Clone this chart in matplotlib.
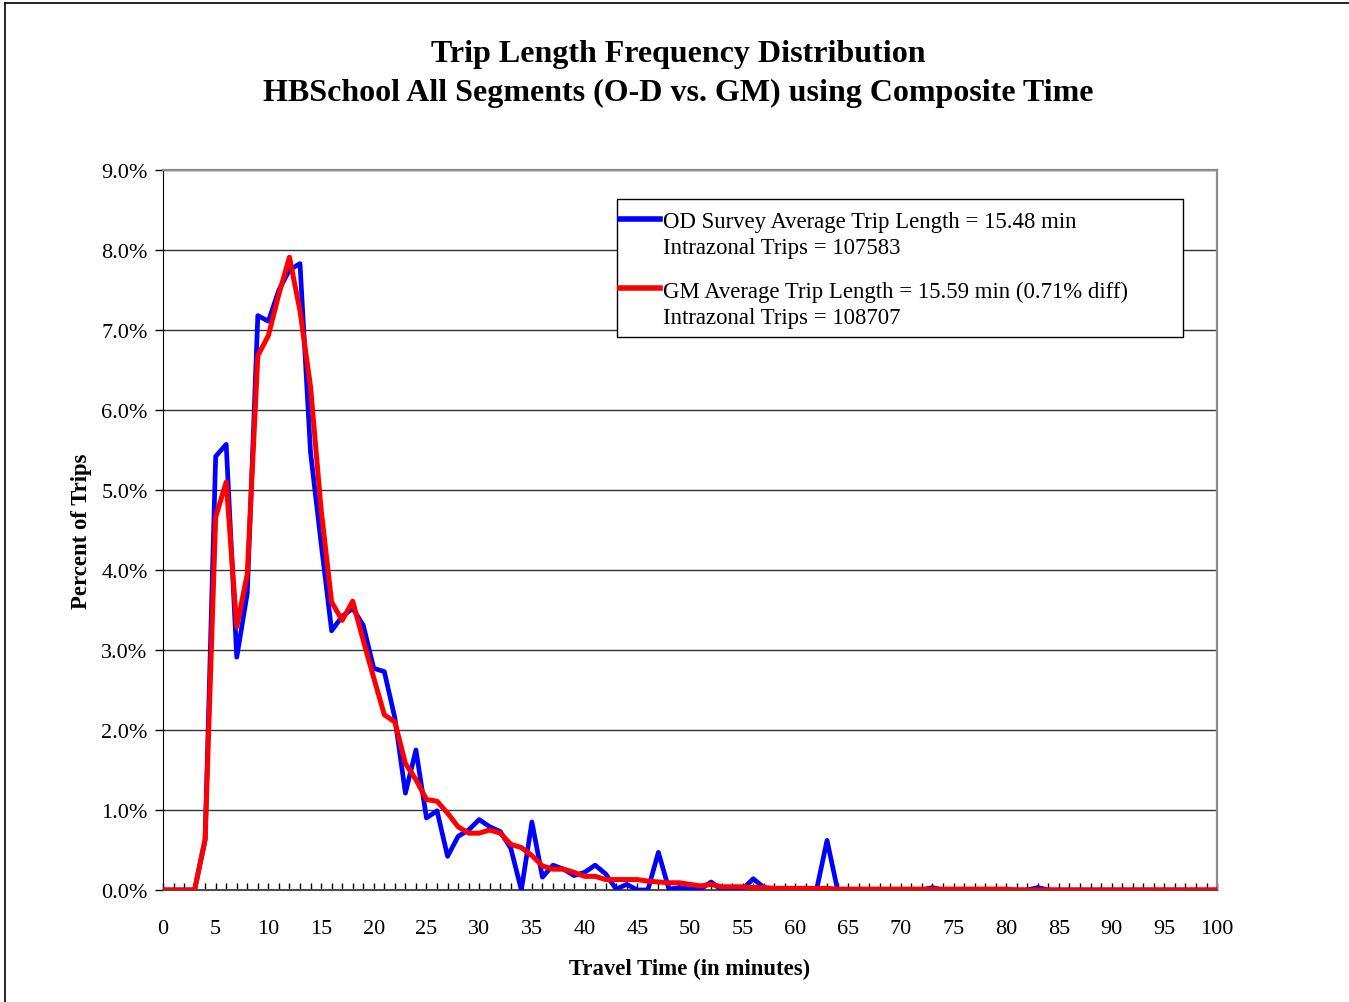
import numpy as np
import matplotlib.pyplot as plt
from matplotlib.lines import Line2D
from matplotlib.patches import Rectangle
from matplotlib.ticker import MultipleLocator, FuncFormatter

plt.rcParams['font.family'] = ['Liberation Serif', 'DejaVu Serif']

# travel time bins (minutes)
minutes = np.arange(0, 101)

# OD survey trip share (%), one value per minute
od_pct = [0, 0, 0, 0, 0.63, 5.42, 5.57, 2.91, 3.71, 7.18,
          7.11, 7.50, 7.75, 7.83, 5.47, 4.34, 3.24, 3.42, 3.52, 3.31,
          2.77, 2.73, 2.15, 1.21, 1.75, 0.90, 0.99, 0.42, 0.67, 0.75,
          0.88, 0.79, 0.73, 0.52, 0.00, 0.85, 0.16, 0.31, 0.26, 0.18,
          0.22, 0.31, 0.20, 0.01, 0.07, 0.00, 0.00, 0.47, 0.01, 0.03,
          0.01, 0.01, 0.10, 0.00, 0.00, 0.01, 0.14, 0.03, 0, 0,
          0, 0, 0, 0.62, 0, 0, 0, 0, 0, 0,
          0, 0, 0, 0.03, 0, 0, 0, 0, 0, 0,
          0, 0, 0, 0.03, 0, 0, 0, 0, 0, 0,
          0, 0, 0, 0, 0, 0, 0, 0, 0, 0,
          0]

# gravity model trip share (%)
gm_pct = [0, 0, 0, 0, 0.63, 4.66, 5.10, 3.29, 3.95, 6.68,
          6.93, 7.45, 7.91, 7.24, 6.29, 4.76, 3.60, 3.37, 3.61, 3.12,
          2.65, 2.19, 2.10, 1.58, 1.38, 1.13, 1.11, 0.96, 0.79, 0.71,
          0.71, 0.75, 0.71, 0.57, 0.53, 0.43, 0.30, 0.26, 0.26, 0.22,
          0.17, 0.17, 0.13, 0.13, 0.13, 0.13, 0.11, 0.10, 0.09, 0.09,
          0.07, 0.05, 0.07, 0.04, 0.04, 0.04, 0.03, 0.03, 0.02, 0.02,
          0.02, 0.02, 0.02, 0.02, 0.01, 0.01, 0.01, 0.01, 0.01, 0.01,
          0.01, 0.01, 0.01, 0.01, 0.01, 0.01, 0.01, 0.01, 0.01, 0.01,
          0.01, 0, 0, 0, 0, 0, 0, 0, 0, 0,
          0, 0, 0, 0, 0, 0, 0, 0, 0, 0,
          0]

od_lines = ['OD Survey Average Trip Length = 15.48 min', 'Intrazonal Trips = 107583']
gm_lines = ['GM Average Trip Length = 15.59 min (0.71% diff)', 'Intrazonal Trips = 108707']

BLUE = '#0000ff'
RED = '#ff0000'

fig = plt.figure(figsize=(13.49, 10.03), dpi=100)
ax = fig.add_axes([0.1208, 0.1117, 0.7814, 0.7178])

ax.plot(minutes, od_pct, color=BLUE, lw=3.4, zorder=3)
ax.plot(minutes, gm_pct, color=RED, lw=3.6, zorder=4)

ax.set_xlim(0, 100)
ax.set_ylim(0, 9)
ax.xaxis.set_major_locator(MultipleLocator(5))
ax.xaxis.set_minor_locator(MultipleLocator(1))
ax.yaxis.set_major_locator(MultipleLocator(1))
ax.yaxis.set_major_formatter(FuncFormatter(lambda v, p: '%.1f%%' % v))
ax.tick_params(axis='x', which='both', direction='in', length=5, width=1,
               color='black', labelsize=16, pad=21)
ax.tick_params(axis='y', which='major', direction='out', length=6, width=1,
               labelsize=16, pad=5)
ax.grid(axis='y', color='0.2', lw=1)
ax.set_axisbelow(True)

for side in ['top', 'right']:
    ax.spines[side].set_color('0.55')
    ax.spines[side].set_linewidth(1.6)
ax.spines['left'].set_color('black')
ax.spines['bottom'].set_color('0.3')
ax.spines['bottom'].set_linewidth(1.5)

ax.set_xlabel('Travel Time (in minutes)', fontsize=16.4, fontweight='bold', labelpad=14)
ax.set_ylabel('Percent of Trips', fontsize=16.4, fontweight='bold', labelpad=7)

# legend box drawn by hand (handle sits on the first text line)
box = Rectangle((0.4307, 0.768), 0.537, 0.1917, transform=ax.transAxes,
                facecolor='white', edgecolor='black', lw=1, zorder=5)
ax.add_patch(box)
for color, lines, y_handle, y_text in [(BLUE, od_lines, 0.932, 0.9278),
                                       (RED, gm_lines, 0.836, 0.8319)]:
    ax.add_line(Line2D([0.4336, 0.4715], [y_handle, y_handle], transform=ax.transAxes,
                       color=color, lw=4, zorder=6))
    ax.text(0.4744, y_text, lines[0], transform=ax.transAxes, fontsize=16.4,
            va='center', ha='left', zorder=6)
    ax.text(0.4744, y_text - 0.0361, lines[1], transform=ax.transAxes, fontsize=16.4,
            va='center', ha='left', zorder=6)

fig.text(0.5025, 0.946, 'Trip Length Frequency Distribution', ha='center', va='center',
         fontsize=23, fontweight='bold')
fig.text(0.5025, 0.907, 'HBSchool All Segments (O-D vs. GM) using Composite Time',
         ha='center', va='center', fontsize=23, fontweight='bold')

# outer frame (left and top edges)
fig.add_artist(Line2D([0.004, 0.004], [0, 0.996], transform=fig.transFigure,
                      color='black', lw=1.2))
fig.add_artist(Line2D([0.004, 1], [0.996, 0.996], transform=fig.transFigure,
                      color='black', lw=1.2))

fig.savefig('out.png', dpi=100)
